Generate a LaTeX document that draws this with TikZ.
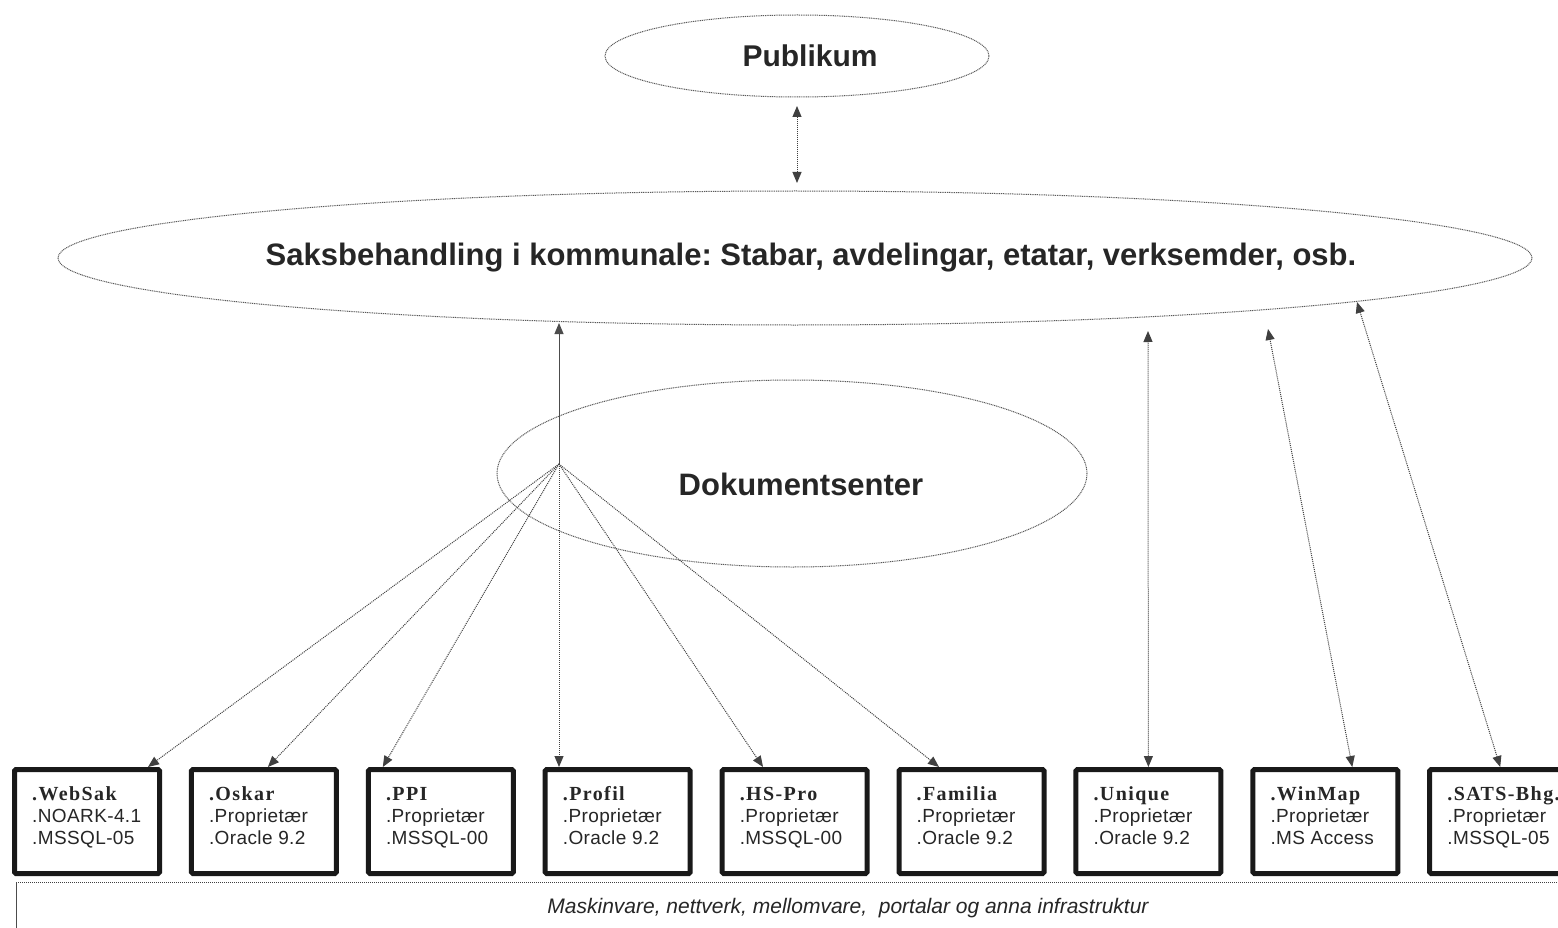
\documentclass[tikz,border=0pt]{standalone}
\usepackage{fontspec}
\setmainfont{Liberation Sans}
\newfontfamily\tnr[LetterSpace=7]{Liberation Serif}
\newfontfamily\boxsans[LetterSpace=2]{Liberation Sans}
\usetikzlibrary{shapes.geometric,arrows.meta}
\frenchspacing
\begin{document}
\begin{tikzpicture}[x=1pt,y=-1pt,
  oval/.style={ellipse,draw=black!65,line width=1pt,dash pattern=on 1pt off 0.8pt,inner sep=0pt,outer sep=0pt},
  bigtext/.style={font=\fontsize{31}{36}\selectfont\bfseries,text=black!85,inner sep=0pt},
  sysbox/.style={draw=black!90,line width=5pt,rounded corners=1.5pt,minimum width=145pt,minimum height=104pt,inner sep=0pt},
  boxtext/.style={anchor=north west,align=left,font=\boxsans\fontsize{19}{22}\selectfont,text=black!85,inner sep=0pt},
  link/.style={draw=black!75,line width=1pt,dash pattern=on 1pt off 1pt},
  solidlink/.style={draw=black!70,line width=1pt},
  tip/.style={-{Triangle[length=11pt,width=9pt]}},
  tips/.style={{Triangle[length=11pt,width=9pt]}-{Triangle[length=11pt,width=9pt]}},
  infratext/.style={font=\fontsize{21}{24}\selectfont\itshape,text=black!85,inner sep=0pt}
]
\useasboundingbox (0,0) rectangle (1558,928);
\clip (0,0) rectangle (1558,928);
\fill[white] (0,0) rectangle (1558,928);

% ellipses
\node[oval,minimum width=384pt,minimum height=82pt] (publikum) at (797,56) {};
\node[bigtext,font=\fontsize{30}{36}\selectfont\bfseries] (publikum-t) at (810,56) {Publikum};
\node[oval,minimum width=1474pt,minimum height=134pt] (saks) at (795,258) {};
\node[bigtext] (saks-t) at (811,258) {Saksbehandling i kommunale: Stabar, avdelingar, etatar, verksemder, osb.};
\node[oval,minimum width=590pt,minimum height=187pt] (doks) at (792,473.5) {};
\node[bigtext] (doks-t) at (801,484) {Dokumentsenter};

% boxes
\foreach \nm/\cx/\a/\b/\c in {
  websak/87/WebSak/NOARK-4.1/MSSQL-05,
  oskar/263.9/Oskar/Proprietær/Oracle 9.2,
  ppi/440.8/PPI/Proprietær/MSSQL-00,
  profil/617.7/Profil/Proprietær/Oracle 9.2,
  hspro/794.6/HS-Pro/Proprietær/MSSQL-00,
  familia/971.5/Familia/Proprietær/Oracle 9.2,
  unique/1148.4/Unique/Proprietær/Oracle 9.2,
  winmap/1325.3/WinMap/Proprietær/MS Access,
  sats/1502.2/SATS-Bhg./Proprietær/MSSQL-05}{
  \node[sysbox] (\nm) at (\cx,821.5) {};
  \node[boxtext] (\nm-t) at ([shift={(-55,-36)}]\nm.center)
    {\rule{0pt}{15pt}{\tnr\fontsize{20}{22}\selectfont\bfseries .\a}\\.\b\\.\c};
}

% coordinates for free ends
\coordinate (hub) at (559,464);
\coordinate (hubtop) at (559,323);
\coordinate (pubend) at (797,106);
\coordinate (saksend) at (797,183);
\coordinate (uniquetop) at (1148,331);
\coordinate (winmaptop) at (1268,329);
\coordinate (satstop) at (1357,302);

% connectors
\draw[link,tips] (pubend) -- (saksend);
\draw[solidlink,tip] (hub) -- (hubtop);
\draw[link,tip] (hub) -- ([xshift=61pt]websak.north);
\draw[link,tip] (hub) -- ([xshift=4pt]oskar.north);
\draw[link,tip] (hub) -- ([xshift=-58pt]ppi.north);
\draw[link,tip] (hub) -- ([xshift=-58.7pt]profil.north);
\draw[link,tip] (hub) -- ([xshift=-31.6pt]hspro.north);
\draw[link,tip] (hub) -- ([xshift=-32.5pt]familia.north);
\draw[link,tips] (unique.north) -- (uniquetop);
\draw[link,tips] ([xshift=27pt]winmap.north) -- (winmaptop);
\draw[link,tips] ([xshift=-2pt]sats.north) -- (satstop);

% infrastructure base
\coordinate (infraL) at (16,882);
\coordinate (infraR) at (1560,882);
\coordinate (infraB) at (16,930);
\draw[link] (infraL) -- (infraR);
\draw[solidlink] (infraL) -- (infraB);
\node[infratext] (infra-t) at (848,908) {Maskinvare, nettverk, mellomvare,\ \ portalar og anna infrastruktur};
\end{tikzpicture}
\end{document}
